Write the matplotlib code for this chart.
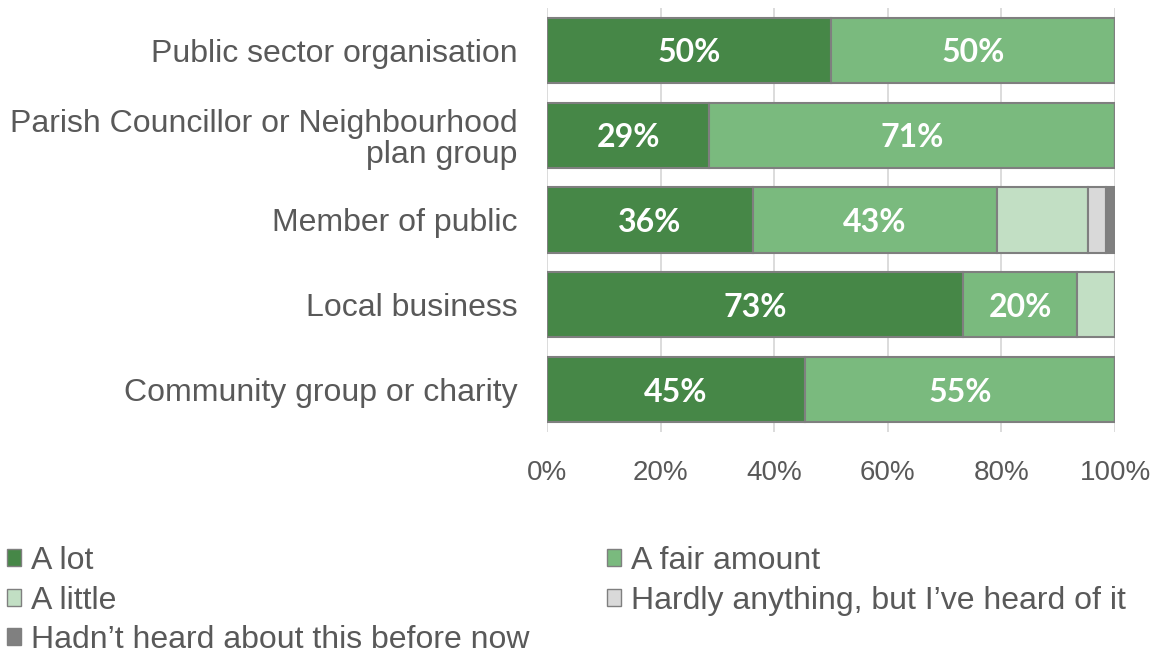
import matplotlib
matplotlib.use("Agg")
import matplotlib.pyplot as plt
import numpy as np

categories = [
    "Public sector organisation",
    "Parish Councillor or Neighbourhood\nplan group",
    "Member of public",
    "Local business",
    "Community group or charity",
]
series_names = [
    "A lot",
    "A fair amount",
    "A little",
    "Hardly anything, but I\u2019ve heard of it",
    "Hadn\u2019t heard about this before now",
]
a_lot = [50.0, 28.6, 36.3, 73.3, 45.4]
a_fair_amount = [50.0, 71.4, 42.9, 20.0, 54.6]
a_little = [0.0, 0.0, 16.0, 6.7, 0.0]
hardly_anything = [0.0, 0.0, 3.2, 0.0, 0.0]
not_heard = [0.0, 0.0, 1.6, 0.0, 0.0]
series = [a_lot, a_fair_amount, a_little, hardly_anything, not_heard]
colors = ["#468747", "#7aba7e", "#c2dfc4", "#d9d9d9", "#808080"]
label_series = [0, 1]  # series whose values are printed on the bars
x_ticks = [0, 20, 40, 60, 80, 100]

plt.rcParams["font.family"] = ["Liberation Sans", "DejaVu Sans"]
TEXT = "#595959"

W, H = 1159, 664
fig = plt.figure(figsize=(W / 100, H / 100), dpi=100)
ax = fig.add_axes([547 / W, 1 - 432 / H, (1115 - 547) / W, (432 - 8) / H])

y = np.arange(len(categories))
left = np.zeros(len(categories))
containers = []
for i, (vals, c) in enumerate(zip(series, colors)):
    vals = np.array(vals)
    bc = ax.barh(y, vals, left=left, height=0.77, color=c, edgecolor="#7f7f7f",
                 linewidth=1.5, label=series_names[i], zorder=3)
    containers.append(bc)
    if i in label_series:
        for yi, l, v in zip(y, left, vals):
            if v > 0:
                ax.text(l + v / 2, yi + 0.03, f"{v:.0f}%", ha="center", va="center",
                        color="white", fontsize=23, fontweight="bold",
                        family="Lato", zorder=4)
    left = left + vals

ax.set_xlim(0, 100)
ax.set_ylim(len(categories) - 0.5, -0.5)
ax.set_xticks(x_ticks)
ax.set_xticklabels([f"{t}%" for t in x_ticks], fontsize=20, color=TEXT)
ax.set_yticks(y)
ax.set_yticklabels(categories, fontsize=23, color=TEXT, linespacing=1.05)
ax.tick_params(axis="both", length=0)
ax.tick_params(axis="x", pad=20)
ax.tick_params(axis="y", pad=21)
for s in ax.spines.values():
    s.set_visible(False)
ax.grid(axis="x", color="#d9d9d9", linewidth=1.3, zorder=0)
ax.set_axisbelow(True)

# Legend in two columns
leg_kw = dict(frameon=False, handlelength=0.45, handleheight=0.45,
              handletextpad=0.3, labelspacing=0.3, borderaxespad=0,
              borderpad=0, prop={"size": 23})
h = [bc.patches[0] for bc in containers]
top = 1 - 546 / H
leg1 = fig.legend([h[0], h[2], h[4]], [series_names[0], series_names[2], series_names[4]],
                  loc="upper left", bbox_to_anchor=(7 / W, top), **leg_kw)
leg2 = fig.legend([h[1], h[3]], [series_names[1], series_names[3]],
                  loc="upper left", bbox_to_anchor=(607 / W, top), **leg_kw)
for leg in (leg1, leg2):
    for t in leg.get_texts():
        t.set_color(TEXT)
    for p in leg.get_patches():
        p.set_linewidth(1.0)
        p.set_edgecolor("#7f7f7f")

fig.savefig("out.png", dpi=100)
